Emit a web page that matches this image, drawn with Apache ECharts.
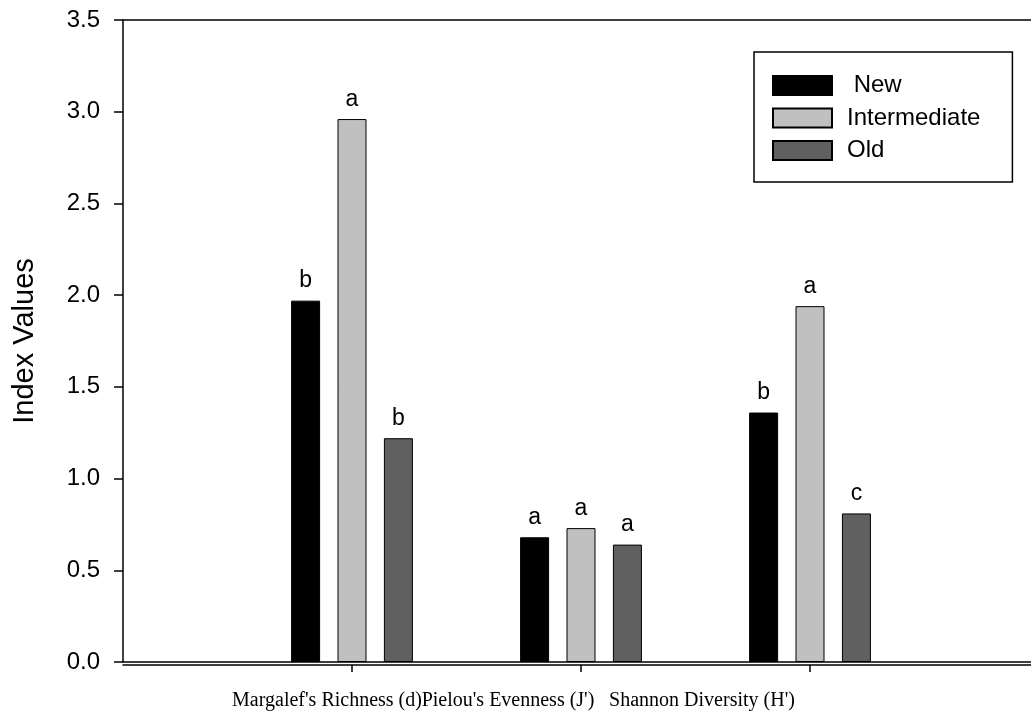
<!DOCTYPE html>
<html>
<head>
<meta charset="utf-8">
<script src="https://cdn.jsdelivr.net/npm/echarts@6/dist/echarts.min.js"></script>
<style>
  html, body { margin: 0; padding: 0; background: #fff; }
  #container { width: 1031px; height: 719px; }
</style>
</head>
<body>
<div id="container"></div>
<script>
var categories = ["Margalef's Richness (d)", "Pielou's Evenness (J')", "Shannon Diversity (H')"];
var catPos = [1, 2, 3];
var seriesNames = ['New', 'Intermediate', 'Old'];
var newValues = [1.97, 0.68, 1.36];
var intermediateValues = [2.96, 0.73, 1.94];
var oldValues = [1.22, 0.64, 0.81];
var newLetters = ['b', 'a', 'b'];
var intermediateLetters = ['a', 'a', 'a'];
var oldLetters = ['b', 'a', 'c'];

var colors = ['#000000', '#c0c0c0', '#606060'];
var values = [newValues, intermediateValues, oldValues];
var letters = [newLetters, intermediateLetters, oldLetters];
var xMax = 3.965; // plot runs a bit past the last group
// category labels sit left of their ticks and run together
var labelShiftPad = [50, 146, 216];

var dom = document.getElementById('container');
var myChart = echarts.init(dom);

function makeSeries(i) {
    return {
        name: seriesNames[i],
        type: 'bar',
        barWidth: 29,
        barGap: '60%',
        data: values[i].map(function (v, j) { return [catPos[j], v]; }),
        itemStyle: { color: colors[i], borderColor: '#000', borderWidth: 1 },
        label: {
            show: true,
            position: 'top',
            distance: 8,
            color: '#000',
            fontFamily: 'Liberation Sans, Arial',
            fontSize: 23,
            formatter: function (p) { return letters[i][p.dataIndex]; }
        },
        animation: false
    };
}

function lineAxis(pos, offset, ticks) {
    return {
        type: 'value',
        position: pos,
        offset: offset,
        min: 0,
        max: xMax,
        axisLine: { show: true, onZero: false, lineStyle: { color: '#000', width: 1.5 } },
        axisTick: ticks ? { show: true, length: 7, customValues: catPos, lineStyle: { color: '#000', width: 1.5 } } : { show: false },
        axisLabel: { show: false },
        splitLine: { show: false }
    };
}

// one label-only axis per category so the labels never get culled for overlapping
function labelAxis(k) {
    return {
        type: 'value',
        position: 'bottom',
        offset: 3,
        min: 0,
        max: xMax,
        axisLine: { show: false },
        axisTick: { show: false },
        splitLine: { show: false },
        axisLabel: {
            customValues: [catPos[k]],
            showMinLabel: true,
            showMaxLabel: true,
            margin: 26,
            color: '#000',
            fontFamily: 'Liberation Serif, Times New Roman',
            fontSize: 20,
            padding: [0, labelShiftPad[k], 0, 0],
            formatter: function () { return categories[k]; }
        }
    };
}

var option = {
    backgroundColor: '#fff',
    grid: { left: 123, right: 0, top: 20, bottom: 57 },
    legend: {
        orient: 'vertical',
        left: 754,
        top: 52,
        data: seriesNames,
        icon: 'rect',
        itemWidth: 59,
        itemHeight: 19,
        itemGap: 8.5,
        padding: [21.5, 32, 19.5, 18],
        backgroundColor: '#fff',
        borderColor: '#000',
        borderWidth: 1.5,
        formatter: function (name) { return name === 'New' ? ' ' + name : name; },
        textStyle: {
            color: '#000',
            fontFamily: 'Liberation Sans, Arial',
            fontSize: 24,
            padding: [0, 0, 0, 10]
        }
    },
    xAxis: [
        lineAxis('bottom', 3, true),
        lineAxis('bottom', 0, false),
        lineAxis('top', 0, false)
    ].concat(categories.map(function (c, k) { return labelAxis(k); })),
    yAxis: {
        type: 'value',
        min: 0,
        max: 3.5,
        interval: 0.5,
        name: 'Index Values',
        nameLocation: 'middle',
        nameGap: 84,
        nameTextStyle: { color: '#000', fontFamily: 'Liberation Sans, Arial', fontSize: 29 },
        axisLine: { show: true, lineStyle: { color: '#000', width: 1.5 } },
        axisTick: { show: true, length: 9, lineStyle: { color: '#000', width: 1.5 } },
        axisLabel: {
            margin: 23,
            color: '#000',
            fontFamily: 'Liberation Sans, Arial',
            fontSize: 24,
            formatter: function (v) { return v.toFixed(1); }
        },
        splitLine: { show: false }
    },
    series: [makeSeries(0), makeSeries(1), makeSeries(2)]
};

if (option && typeof option === 'object') {
    myChart.setOption(option, true);
}
</script>
</body>
</html>
